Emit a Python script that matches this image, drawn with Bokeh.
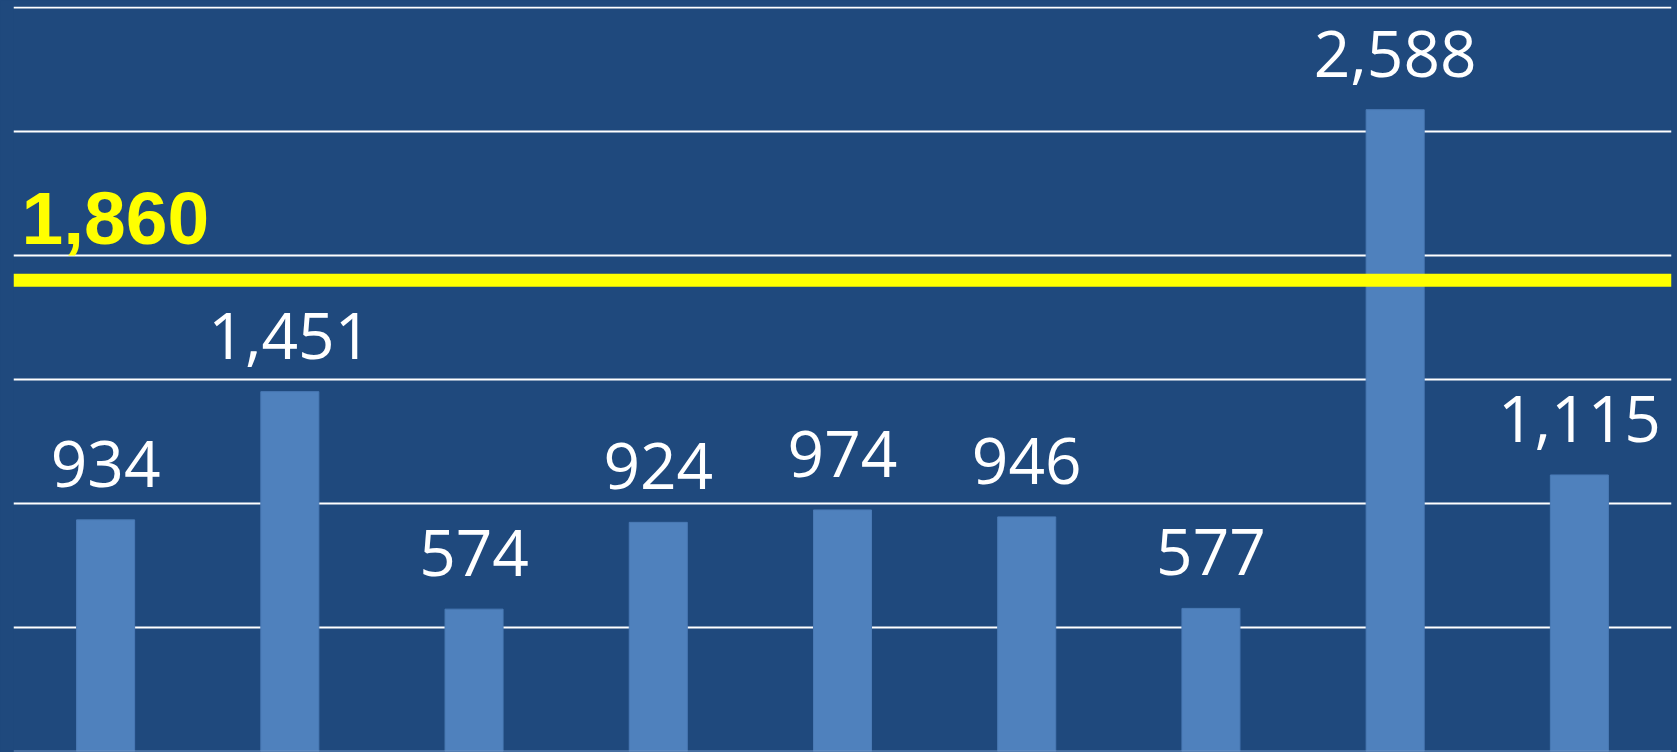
from bokeh.plotting import figure
from bokeh.models import ColumnDataSource, LabelSet, Label, Span, Range1d, FixedTicker
from bokeh.core.properties import value
from bokeh.embed import file_html
from bokeh.resources import INLINE

categories = ["1", "2", "3", "4", "5", "6", "7", "8", "9"]
values = [934, 1451, 574, 924, 974, 946, 577, 2588, 1115]
labels = ["934", "1,451", "574", "924", "974", "946", "577", "2,588", "1,115"]
avg_label = "1,860"
avg_line_level = 1900
y_ticks = [500, 1000, 1500, 2000, 2500, 3000]

BG = "#1F497D"
BAR = "#4F81BD"

src = ColumnDataSource(dict(cat=categories, val=values, lab=labels))

p = figure(x_range=categories, y_range=Range1d(0, 3004), width=1677, height=752,
           output_backend="svg", toolbar_location=None,
           min_border_left=13, min_border_right=6, min_border_top=6, min_border_bottom=1,
           background_fill_color=BG, border_fill_color=BG, outline_line_color=None)

p.vbar(x="cat", top="val", bottom=0, width=0.315, source=src, fill_color=BAR,
       line_color="#4A7AB5", line_width=1)

p.xaxis.visible = False
p.yaxis.visible = False
p.xgrid.visible = False
p.yaxis.ticker = FixedTicker(ticks=y_ticks)
p.ygrid.ticker = FixedTicker(ticks=y_ticks)
p.ygrid.grid_line_color = "white"
p.ygrid.grid_line_width = 2
p.ygrid.level = "underlay"

p.add_layout(Span(location=0, dimension="width", line_color="#6F94C4", line_width=2))

p.add_layout(LabelSet(x="cat", y="val", text="lab", source=src, y_offset=33,
                      text_align="center", text_baseline="alphabetic",
                      text_color="white", text_font=value("Open Sans"), text_font_size="64px"))

p.add_layout(Span(location=avg_line_level, dimension="width", line_color="#FFFF00", line_width=13))
p.add_layout(Label(x=8, x_units="screen", y=avg_line_level, y_units="data", y_offset=62,
                   text=avg_label, text_color="#FFFF00", text_font="Liberation Sans",
                   text_font_style="bold", text_font_size="75px", text_baseline="alphabetic"))

html = file_html(p, INLINE)
html = html.replace("</head>", "<style>html,body{background:#1F497D;overflow:hidden}</style></head>", 1)
open("out.html", "w").write(html)
